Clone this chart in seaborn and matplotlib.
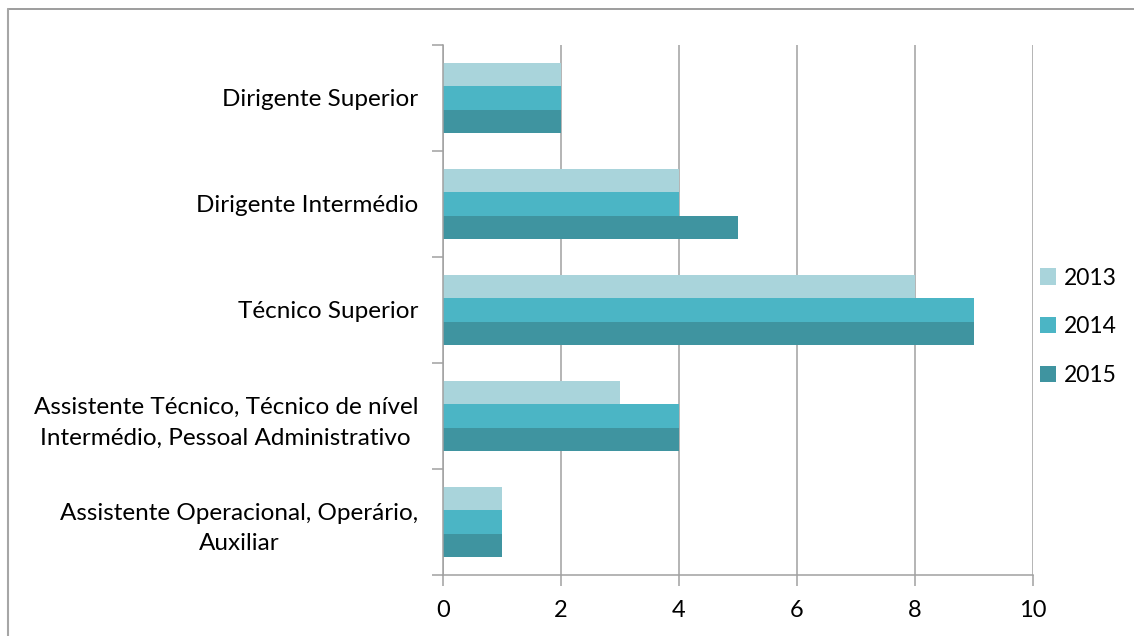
import matplotlib
matplotlib.use("Agg")
import matplotlib.pyplot as plt
import seaborn as sns
import pandas as pd
from matplotlib.lines import Line2D
from matplotlib.ticker import FixedLocator

categories = [
    "Dirigente Superior",
    "Dirigente Intermédio",
    "Técnico Superior",
    "Assistente Técnico, Técnico de nível\nIntermédio, Pessoal Administrativo",
    "Assistente Operacional, Operário,\nAuxiliar",
]
years = ["2013", "2014", "2015"]
values_2013 = [2, 4, 8, 3, 1]
values_2014 = [2, 4, 9, 4, 1]
values_2015 = [2, 5, 9, 4, 1]
x_ticks = [0, 2, 4, 6, 8, 10]
colors = ["#A9D4DB", "#4BB5C5", "#3F94A0"]

rows = []
for year, vals in zip(years, [values_2013, values_2014, values_2015]):
    for cat, v in zip(categories, vals):
        rows.append({"categoria": cat, "ano": year, "valor": v})
df = pd.DataFrame(rows)

sns.set_theme(style="white")
plt.rcParams["font.family"] = ["Lato", "DejaVu Sans"]

fig = plt.figure(figsize=(11.34, 6.36), dpi=100)
ax = fig.add_axes([443 / 1134, 1 - 575 / 636, 590 / 1134, 530 / 636])

sns.barplot(data=df, y="categoria", x="valor", hue="ano", order=categories,
            hue_order=years, palette=colors, orient="h", width=0.66,
            saturation=1, ax=ax, linewidth=0)

ax.set_xlim(0, 10)
ax.set_ylim(len(categories) - 0.5, -0.5)
ax.set_xticks(x_ticks)
ax.set_xticklabels([str(t) for t in x_ticks], fontsize=17, color="#000000")
ax.set_xlabel("")
ax.set_ylabel("")

grid_color = "#A0A0A0"
ax.grid(axis="x", color=grid_color, linewidth=1.1)
ax.grid(axis="y", visible=False)
ax.set_axisbelow(True)

for side in ["top", "right"]:
    ax.spines[side].set_visible(False)
for side in ["left", "bottom"]:
    ax.spines[side].set_color(grid_color)
    ax.spines[side].set_linewidth(1.1)

# category labels centred on each group, tick marks on the boundaries
ax.set_yticks(range(len(categories)))
ax.set_yticklabels(categories, fontsize=17.5, color="#000000",
                   multialignment="center", linespacing=1.55)
ax.tick_params(axis="y", which="major", length=0, pad=18)
ax.yaxis.set_minor_locator(FixedLocator([i - 0.5 for i in range(len(categories) + 1)]))
ax.tick_params(axis="y", which="minor", left=True, length=8, width=1.1,
               color=grid_color)
ax.tick_params(axis="x", which="major", bottom=True, length=8, width=1.1,
               color=grid_color, pad=10)

leg = ax.legend(loc="center left", bbox_to_anchor=(1.0 - 7 / 590, 0.468),
                frameon=False, fontsize=16.5, handlelength=0.7,
                handleheight=0.7, handletextpad=0.35, labelspacing=1.22,
                borderaxespad=0.2)
for t in leg.get_texts():
    t.set_color("#000000")

# outer chart frame
fig.add_artist(Line2D([8 / 1134, 1.0], [1 - 9 / 636, 1 - 9 / 636],
                      transform=fig.transFigure, color="#8C8C8C", linewidth=1.2))
fig.add_artist(Line2D([8 / 1134, 8 / 1134], [0.0, 1 - 9 / 636],
                      transform=fig.transFigure, color="#A6A6A6", linewidth=1.5))

fig.savefig("out.png", dpi=100, facecolor="white")
